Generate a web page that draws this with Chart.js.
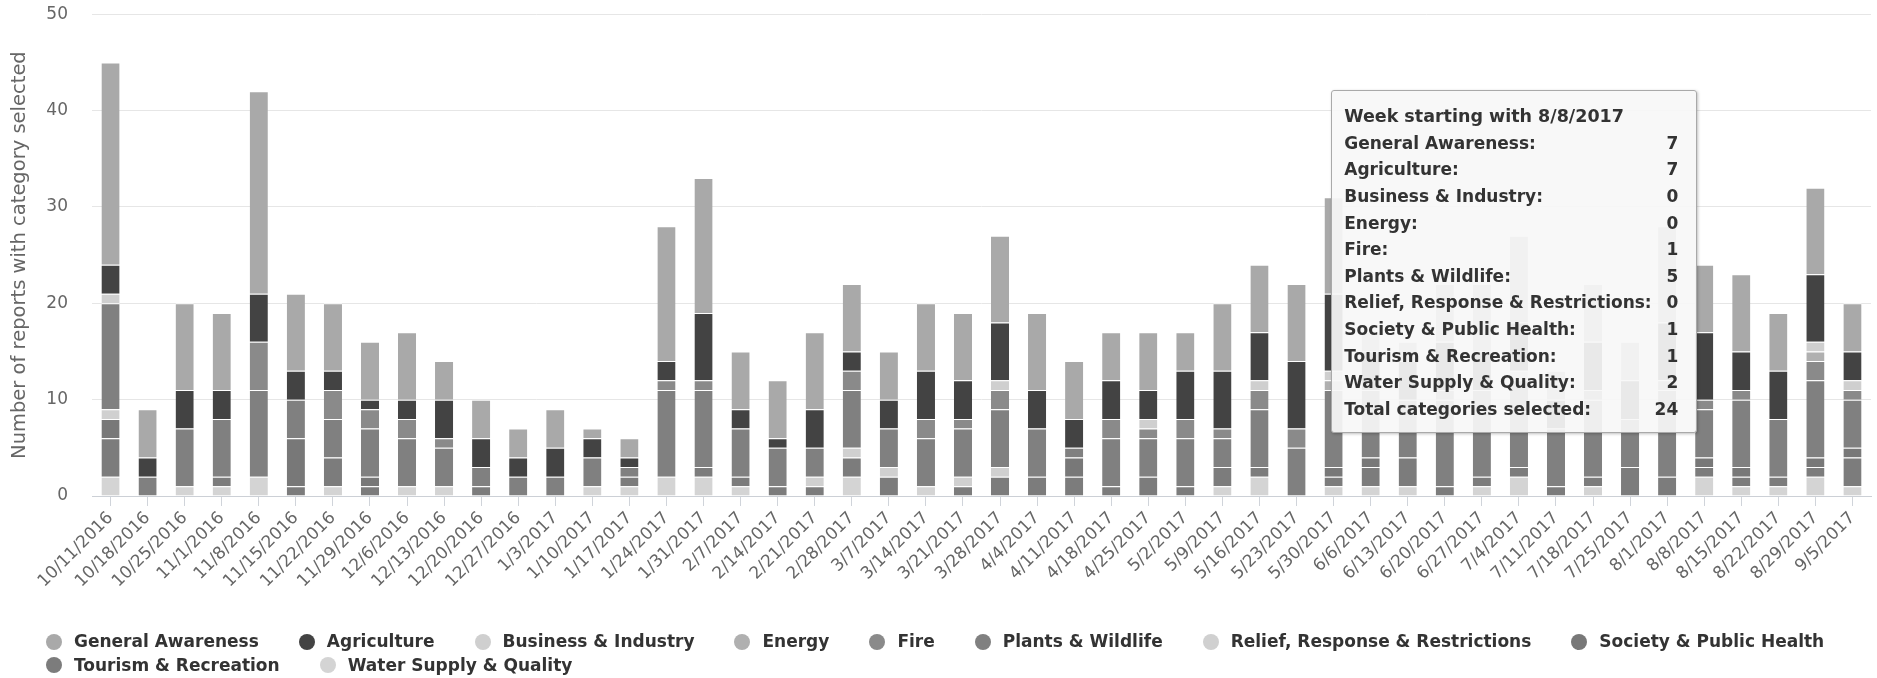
<!DOCTYPE html>
<html>
<head>
<meta charset="utf-8">
<script src="https://cdn.jsdelivr.net/npm/chart.js@4.4.1/dist/chart.umd.min.js"></script>
<style>
    html, body { margin: 0; padding: 0; background: #fff; overflow: hidden; }
    #wrap { position: relative; width: 1877px; height: 678px; }
    #chart { position: absolute; left: 0; top: 0; }
    #tip {
        position: absolute;
        box-sizing: border-box;
        width: 366px;
        padding: 12px 18px 10px 12px;
        background: rgba(247, 247, 247, 0.92);
        border: 1px solid #a9a9a9;
        border-radius: 3px;
        box-shadow: 1px 1px 3px rgba(0, 0, 0, 0.25);
        font: bold 17px 'DejaVu Sans', sans-serif;
        color: #333;
        line-height: 26.6px;
    }
    #tip .row { display: flex; justify-content: space-between; white-space: nowrap; }
    #tip .title { font-size: 17.5px; }
    #legend {
        position: absolute;
        left: 46px;
        top: 630px;
        width: 1830px;
        display: flex;
        flex-wrap: wrap;
        font: bold 17px 'DejaVu Sans', sans-serif;
        color: #333;
        line-height: 23.5px;
    }
    #legend .item { display: flex; align-items: center; margin-right: 40px; white-space: nowrap; }
    #legend .dot { width: 16px; height: 16px; border-radius: 50%; margin-right: 12px; }
</style>
</head>
<body>
<div id="wrap">
    <canvas id="chart" width="1877" height="678"></canvas>
    <div id="tip"></div>
    <div id="legend"></div>
</div>
<script>
// week start dates
const weeks = [
    '10/11/2016', '10/18/2016', '10/25/2016', '11/1/2016', '11/8/2016', '11/15/2016',
    '11/22/2016', '11/29/2016', '12/6/2016', '12/13/2016', '12/20/2016', '12/27/2016',
    '1/3/2017', '1/10/2017', '1/17/2017', '1/24/2017', '1/31/2017', '2/7/2017',
    '2/14/2017', '2/21/2017', '2/28/2017', '3/7/2017', '3/14/2017', '3/21/2017',
    '3/28/2017', '4/4/2017', '4/11/2017', '4/18/2017', '4/25/2017', '5/2/2017',
    '5/9/2017', '5/16/2017', '5/23/2017', '5/30/2017', '6/6/2017', '6/13/2017',
    '6/20/2017', '6/27/2017', '7/4/2017', '7/11/2017', '7/18/2017', '7/25/2017',
    '8/1/2017', '8/8/2017', '8/15/2017', '8/22/2017', '8/29/2017', '9/5/2017'
];

// reports per category, one value per week
const generalAwareness = [21, 5, 9, 8, 21, 8, 7, 6, 7, 4, 4, 3, 4, 1, 2, 14, 14, 6, 6, 8, 7, 5, 7, 7, 9, 8, 6, 5, 6, 4, 7, 7, 8, 10, 2, 2, 6, 7, 9, 3, 6, 4, 10, 7, 8, 6, 9, 5];
const agriculture = [3, 2, 4, 3, 5, 3, 2, 1, 2, 4, 3, 2, 3, 2, 1, 2, 7, 2, 1, 4, 2, 3, 5, 4, 6, 4, 3, 4, 3, 5, 6, 5, 7, 8, 4, 4, 5, 4, 5, 3, 5, 4, 6, 7, 4, 5, 7, 3];
const businessIndustry = [1, 0, 0, 0, 0, 0, 0, 0, 0, 0, 0, 0, 0, 0, 0, 0, 0, 0, 0, 0, 0, 0, 0, 0, 1, 0, 0, 0, 1, 0, 0, 1, 0, 1, 0, 0, 0, 0, 1, 0, 0, 0, 0, 0, 0, 0, 1, 1];
const energy = [0, 0, 0, 0, 0, 0, 0, 0, 0, 0, 0, 0, 0, 0, 0, 0, 0, 0, 0, 0, 0, 0, 0, 0, 0, 0, 0, 0, 0, 0, 0, 0, 0, 1, 0, 0, 0, 0, 0, 0, 0, 0, 0, 0, 0, 0, 1, 0];
const fire = [0, 0, 0, 0, 5, 0, 3, 2, 2, 1, 0, 0, 0, 0, 0, 1, 1, 0, 0, 0, 2, 0, 2, 1, 2, 0, 0, 2, 1, 2, 1, 2, 2, 0, 0, 0, 1, 0, 0, 0, 1, 0, 1, 1, 1, 0, 2, 1];
const plantsWildlife = [11, 2, 6, 6, 9, 4, 4, 5, 5, 4, 2, 2, 2, 3, 1, 9, 8, 5, 4, 3, 6, 4, 5, 5, 6, 5, 1, 5, 4, 5, 3, 6, 5, 8, 7, 6, 9, 9, 9, 6, 8, 5, 9, 5, 7, 6, 8, 5];
const reliefResponse = [1, 0, 0, 0, 0, 0, 0, 0, 0, 0, 0, 0, 0, 0, 0, 0, 0, 0, 0, 1, 1, 1, 0, 1, 1, 0, 0, 0, 0, 0, 0, 0, 0, 0, 0, 0, 0, 0, 0, 0, 0, 0, 0, 0, 0, 0, 0, 0];
const societyHealth = [2, 0, 0, 0, 0, 5, 0, 1, 0, 0, 0, 0, 0, 0, 0, 0, 0, 0, 0, 0, 0, 0, 0, 0, 0, 0, 2, 0, 0, 0, 0, 0, 0, 1, 1, 0, 0, 0, 0, 0, 0, 0, 0, 1, 1, 0, 1, 1];
const tourismRecreation = [4, 0, 0, 1, 0, 1, 3, 1, 0, 0, 1, 0, 0, 0, 1, 0, 1, 1, 1, 1, 2, 2, 0, 1, 2, 2, 2, 1, 2, 1, 2, 1, 0, 1, 2, 3, 1, 1, 1, 1, 1, 3, 2, 1, 1, 1, 1, 3];
const waterSupply = [2, 0, 1, 1, 2, 0, 1, 0, 1, 1, 0, 0, 0, 1, 1, 2, 2, 1, 0, 0, 2, 0, 1, 0, 0, 0, 0, 0, 0, 0, 1, 2, 0, 1, 1, 1, 0, 1, 2, 0, 1, 0, 0, 2, 1, 1, 2, 1];

const yTicks = [0, 10, 20, 30, 40, 50];
const highlightWeek = '8/8/2017';

// bottom of the stack first
const series = [
    { label: 'Water Supply & Quality', data: waterSupply, color: '#d4d4d4' },
    { label: 'Tourism & Recreation', data: tourismRecreation, color: '#7c7c7c' },
    { label: 'Society & Public Health', data: societyHealth, color: '#787878' },
    { label: 'Relief, Response & Restrictions', data: reliefResponse, color: '#d0d0d0' },
    { label: 'Plants & Wildlife', data: plantsWildlife, color: '#808080' },
    { label: 'Fire', data: fire, color: '#8a8a8a' },
    { label: 'Energy', data: energy, color: '#b0b0b0' },
    { label: 'Business & Industry', data: businessIndustry, color: '#cfcfcf' },
    { label: 'Agriculture', data: agriculture, color: '#434343' },
    { label: 'General Awareness', data: generalAwareness, color: '#a9a9a9' }
];

Chart.defaults.font.family = "'DejaVu Sans', sans-serif";
Chart.defaults.color = '#666';

function showTooltip(context) {
    const { chart, tooltip } = context;
    const el = document.getElementById('tip');
    if (tooltip.opacity === 0) {
        el.style.display = 'none';
        return;
    }
    const points = tooltip.dataPoints.slice().sort((a, b) => b.datasetIndex - a.datasetIndex);
    let total = 0;
    const rows = points.map(p => {
        total += p.raw;
        return `<div class="row"><span>${p.dataset.label}:</span><span>${p.raw}</span></div>`;
    });
    el.innerHTML = `
        <div class="row title"><span>Week starting with ${tooltip.title[0]}</span></div>
        ${rows.join('')}
        <div class="row"><span>Total categories selected:</span><span>${total}</span></div>
    `;
    el.style.display = 'block';
    el.style.left = (tooltip.caretX - 373) + 'px';
    el.style.top = (chart.chartArea.top + 76) + 'px';
}

const chart = new Chart(document.getElementById('chart'), {
    type: 'bar',
    data: {
        labels: weeks,
        datasets: series.map(s => ({
            label: s.label,
            data: s.data,
            backgroundColor: s.color,
            borderColor: '#ffffff',
            borderWidth: { top: 1, right: 0, bottom: 0, left: 0 },
            borderSkipped: false,
            barPercentage: 0.49,
            categoryPercentage: 1.0
        }))
    },
    options: {
        responsive: false,
        animation: false,
        events: [],
        layout: { padding: { top: 4, right: 6, left: 0, bottom: 0 } },
        plugins: {
            legend: { display: false },
            tooltip: {
                enabled: false,
                mode: 'index',
                intersect: false,
                external: showTooltip
            }
        },
        scales: {
            x: {
                stacked: true,
                afterFit: scale => { scale.height = 182; },
                border: { display: true, color: '#ccd0d6', width: 1 },
                grid: {
                    offset: false,
                    drawOnChartArea: false,
                    drawTicks: true,
                    tickLength: 10,
                    color: '#d0d4da'
                },
                ticks: {
                    autoSkip: false,
                    minRotation: 45,
                    maxRotation: 45,
                    padding: 2,
                    color: '#666',
                    font: { size: 17 }
                }
            },
            y: {
                stacked: true,
                min: yTicks[0],
                max: yTicks[yTicks.length - 1],
                afterFit: scale => { scale.width = 92; },
                afterBuildTicks: scale => { scale.ticks = yTicks.map(v => ({ value: v })); },
                border: { display: false },
                // invisible tick marks keep the labels away from the plot
                grid: { color: '#e6e6e6', drawTicks: true, tickLength: 20, tickColor: 'rgba(0,0,0,0)' },
                ticks: { padding: 4, color: '#666', font: { size: 17 } },
                title: {
                    display: true,
                    text: 'Number of reports with category selected',
                    color: '#666',
                    font: { size: 19.5 },
                    padding: { top: 8, bottom: 0 }
                }
            }
        }
    }
});

// legend, in the same order as the tooltip
const legendEl = document.getElementById('legend');
const legendItems = Chart.defaults.plugins.legend.labels.generateLabels(chart).reverse();
legendEl.innerHTML = legendItems.map(item => `
    <div class="item"><span class="dot" style="background:${item.fillStyle}"></span>${item.text}</div>
`).join('');

// hovered week shown in the picture
const hoverIndex = weeks.indexOf(highlightWeek);
chart.tooltip.setActiveElements(
    chart.data.datasets.map((d, i) => ({ datasetIndex: i, index: hoverIndex })),
    { x: 0, y: 0 }
);
chart.update();
</script>
</body>
</html>
